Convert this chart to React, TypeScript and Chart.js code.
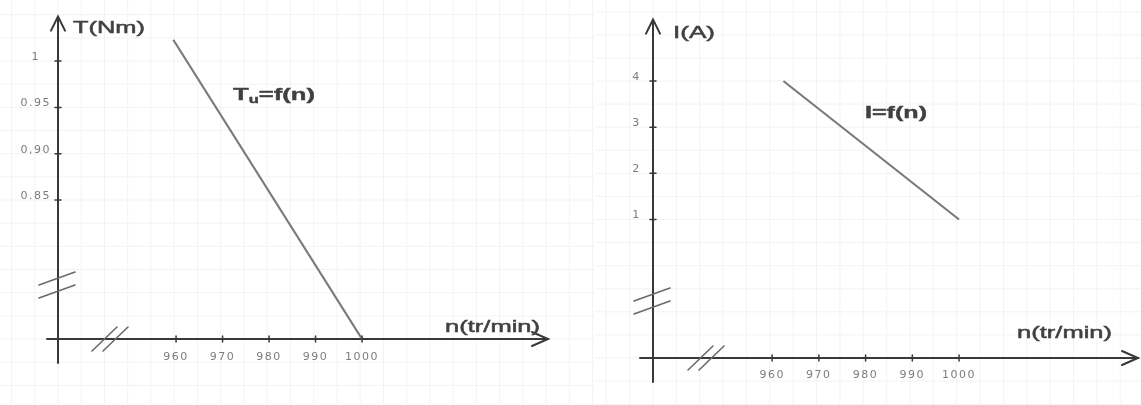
import { useEffect, useRef } from "react";
import { Chart, registerables } from "chart.js";

Chart.register(...registerables);

// ---- data ----
const torqueSpeeds = [959.4, 1000];
const torqueValues = [1.023, 0.7];
const currentSpeeds = [962.4, 1000];
const currentValues = [4.0, 1.0];

const speedTicks = [960, 970, 980, 990, 1000];
const speedTickLabels = ["960", "970", "980", "990", "1000"];
const torqueTicks = [0.85, 0.9, 0.95, 1];
const torqueTickLabels = ["0.85", "0,90", "0.95", "1"];
const currentTicks = [1, 2, 3, 4];
const currentTickLabels = ["1", "2", "3", "4"];

const torqueAxisRange = [0.7, 1.048];
const currentAxisRange = [-2, 5.33];
const torqueSpeedRange = [934.6, 1040];
const currentSpeedRange = [934.5, 1038.3];

const torqueAxisTitle = "T(Nm)";
const currentAxisTitle = "I(A)";
const speedAxisTitle = "n(tr/min)";

type Part = { t: string; sub?: boolean };
type Label = { parts: Part[]; x0: number; x1: number; y: number; size: number; bold?: boolean };
type Spec = {
  xs: number[];
  ys: number[];
  xRange: number[];
  yRange: number[];
  yTicks: number[];
  yTickLabels: string[];
  padding: { left: number; right: number; top: number; bottom: number };
  xHeight: number;
  yWidth: number;
  xLabelPad: number;
  yLabelPad: number;
  yExtend: number;
  xExtend: number;
  yBreakUp: number;
  xBreakRight: number;
  labels: Label[];
};

const AXIS = "#383838";
const TEXT = "#404040";

function drawFitted(ctx: CanvasRenderingContext2D, lab: Label) {
  const weight = lab.bold ? "bold " : "";
  const fontFor = (p: Part) =>
    `${weight}${p.sub ? Math.round(lab.size * 0.62) : lab.size}px "Liberation Sans", Arial, sans-serif`;
  ctx.save();
  (ctx as any).letterSpacing = "0px";
  let total = 0;
  const widths = lab.parts.map((p) => {
    ctx.font = fontFor(p);
    const w = ctx.measureText(p.t).width;
    total += w;
    return w;
  });
  const s = (lab.x1 - lab.x0) / total;
  ctx.translate(lab.x0, lab.y);
  ctx.scale(s, 1);
  ctx.textBaseline = "middle";
  ctx.textAlign = "left";
  ctx.fillStyle = TEXT;
  ctx.strokeStyle = TEXT;
  ctx.lineWidth = lab.bold ? 0.4 : 0.5;
  let x = 0;
  lab.parts.forEach((p, i) => {
    ctx.font = fontFor(p);
    const yy = p.sub ? lab.size * 0.32 : 0;
    ctx.fillText(p.t, x, yy);
    ctx.strokeText(p.t, x, yy);
    x += widths[i];
  });
  ctx.restore();
}

function line(ctx: CanvasRenderingContext2D, x1: number, y1: number, x2: number, y2: number) {
  ctx.beginPath();
  ctx.moveTo(x1, y1);
  ctx.lineTo(x2, y2);
  ctx.stroke();
}

function sketchPlugin(spec: Spec) {
  return {
    id: "sketch",
    beforeDraw(chart: any) {
      const ctx: CanvasRenderingContext2D = chart.ctx;
      const { left, bottom } = chart.chartArea;
      const xs = chart.scales.x;
      const ys = chart.scales.y;
      const stepX = Math.abs(xs.getPixelForValue(965) - xs.getPixelForValue(960));
      const stepY = Math.abs(ys.getPixelForValue(spec.yTicks[1]) - ys.getPixelForValue(spec.yTicks[0])) / 2;
      ctx.save();
      ctx.strokeStyle = "#f3f3f3";
      ctx.lineWidth = 1;
      for (let x = left - stepX * 3; x < chart.width; x += stepX) line(ctx, x, 0, x, chart.height);
      for (let y = bottom + stepY * 2; y > 0; y -= stepY) line(ctx, 0, y, chart.width, y);
      ctx.restore();
      (ctx as any).letterSpacing = "1.5px";
    },
    afterDraw(chart: any) {
      const ctx: CanvasRenderingContext2D = chart.ctx;
      const { left, right, top, bottom } = chart.chartArea;
      const xs = chart.scales.x;
      const ys = chart.scales.y;
      ctx.save();
      ctx.strokeStyle = AXIS;
      ctx.lineWidth = 2;
      ctx.lineCap = "round";
      // axis extensions
      line(ctx, left, bottom, left, bottom + spec.yExtend);
      line(ctx, left - spec.xExtend, bottom, left, bottom);
      // arrow heads
      ctx.beginPath();
      ctx.moveTo(left - 7, top + 14);
      ctx.lineTo(left, top);
      ctx.lineTo(left + 7, top + 14);
      ctx.stroke();
      ctx.beginPath();
      ctx.moveTo(right - 16, bottom - 7);
      ctx.lineTo(right, bottom);
      ctx.lineTo(right - 16, bottom + 7);
      ctx.stroke();
      // tick marks
      ctx.lineWidth = 1.5;
      speedTicks.forEach((v) => {
        const px = xs.getPixelForValue(v);
        line(ctx, px, bottom - 3, px, bottom + 3);
      });
      spec.yTicks.forEach((v) => {
        const py = ys.getPixelForValue(v);
        line(ctx, left - 3, py, left + 3, py);
      });
      // breaks
      ctx.strokeStyle = "#6a6a6a";
      ctx.lineWidth = 1.6;
      const by = bottom - spec.yBreakUp;
      [-6.5, 6.5].forEach((o) => line(ctx, left - 19, by + o + 6.5, left + 17, by + o - 6.5));
      const bx = left + spec.xBreakRight;
      [-5.5, 5.5].forEach((o) => line(ctx, bx + o - 12.5, bottom + 12, bx + o + 12.5, bottom - 12));
      ctx.restore();
      spec.labels.forEach((l) => drawFitted(ctx, l));
    },
  };
}

function buildChart(canvas: HTMLCanvasElement, spec: Spec) {
  const tickFont = { family: "DejaVu Sans", size: 11 };
  return new Chart(canvas, {
    type: "scatter",
    data: {
      datasets: [
        {
          data: spec.xs.map((x, i) => ({ x, y: spec.ys[i] })),
          showLine: true,
          borderColor: "#7a7a7a",
          borderWidth: 2.2,
          pointRadius: 0,
          fill: false,
        },
      ],
    },
    options: {
      animation: false,
      responsive: false,
      maintainAspectRatio: false,
      layout: { padding: spec.padding },
      plugins: { legend: { display: false }, tooltip: { enabled: false } },
      scales: {
        x: {
          type: "linear",
          min: spec.xRange[0],
          max: spec.xRange[1],
          afterBuildTicks: (s: any) => {
            s.ticks = speedTicks.map((v) => ({ value: v }));
          },
          afterFit: (s: any) => {
            s.height = spec.xHeight;
          },
          grid: { display: false, drawTicks: false },
          border: { display: true, color: AXIS, width: 2 },
          ticks: {
            autoSkip: false,
            maxRotation: 0,
            padding: spec.xLabelPad,
            color: "#7c7c7c",
            font: tickFont,
            callback: (_v: any, i: number) => speedTickLabels[i],
          },
        },
        y: {
          type: "linear",
          min: spec.yRange[0],
          max: spec.yRange[1],
          afterBuildTicks: (s: any) => {
            s.ticks = spec.yTicks.map((v) => ({ value: v }));
          },
          afterFit: (s: any) => {
            s.width = spec.yWidth;
          },
          grid: { display: false, drawTicks: false },
          border: { display: true, color: AXIS, width: 2 },
          ticks: {
            autoSkip: false,
            crossAlign: "center",
            padding: spec.yLabelPad,
            labelOffset: -4,
            color: "#7c7c7c",
            font: tickFont,
            callback: (_v: any, i: number) => spec.yTickLabels[i],
          },
        },
      },
    },
    plugins: [sketchPlugin(spec) as any],
  });
}

export default function App() {
  const leftRef = useRef<HTMLCanvasElement>(null);
  const rightRef = useRef<HTMLCanvasElement>(null);

  useEffect(() => {
    const left = buildChart(leftRef.current!, {
      xs: torqueSpeeds,
      ys: torqueValues,
      xRange: torqueSpeedRange,
      yRange: torqueAxisRange,
      yTicks: torqueTicks,
      yTickLabels: torqueTickLabels,
      padding: { left: 8, right: 47, top: 12, bottom: 26 },
      xHeight: 40,
      yWidth: 50,
      xLabelPad: 12,
      yLabelPad: 10,
      yExtend: 24,
      xExtend: 11,
      yBreakUp: 54,
      xBreakRight: 52,
      labels: [
        { parts: [{ t: torqueAxisTitle }], x0: 73, x1: 145, y: 28, size: 17 },
        { parts: [{ t: speedAxisTitle }], x0: 445, x1: 540, y: 327, size: 17 },
        {
          parts: [{ t: "T" }, { t: "u", sub: true }, { t: "=f(n)" }],
          x0: 233,
          x1: 315,
          y: 95,
          size: 17,
          bold: true,
        },
      ],
    });
    const right = buildChart(rightRef.current!, {
      xs: currentSpeeds,
      ys: currentValues,
      xRange: currentSpeedRange,
      yRange: currentAxisRange,
      yTicks: currentTicks,
      yTickLabels: currentTickLabels,
      padding: { left: 8, right: 3, top: 12, bottom: 7 },
      xHeight: 40,
      yWidth: 50,
      xLabelPad: 11,
      yLabelPad: 13,
      yExtend: 24,
      xExtend: 13,
      yBreakUp: 57,
      xBreakRight: 53,
      labels: [
        { parts: [{ t: currentAxisTitle }], x0: 78, x1: 120, y: 33, size: 17 },
        { parts: [{ t: speedAxisTitle }], x0: 422, x1: 517, y: 333, size: 17 },
        { parts: [{ t: "I=f(n)" }], x0: 270, x1: 332, y: 113, size: 17, bold: true },
      ],
    });
    return () => {
      left.destroy();
      right.destroy();
    };
  }, []);

  return (
    <div
      style={{
        position: "absolute",
        left: 0,
        top: 0,
        width: 1141,
        height: 405,
        background: "#ffffff",
        overflow: "hidden",
      }}
    >
      <canvas
        ref={leftRef}
        width={595}
        height={405}
        style={{ position: "absolute", left: 0, top: 0, width: 595, height: 405 }}
      />
      <canvas
        ref={rightRef}
        width={546}
        height={405}
        style={{ position: "absolute", left: 595, top: 0, width: 546, height: 405 }}
      />
    </div>
  );
}
